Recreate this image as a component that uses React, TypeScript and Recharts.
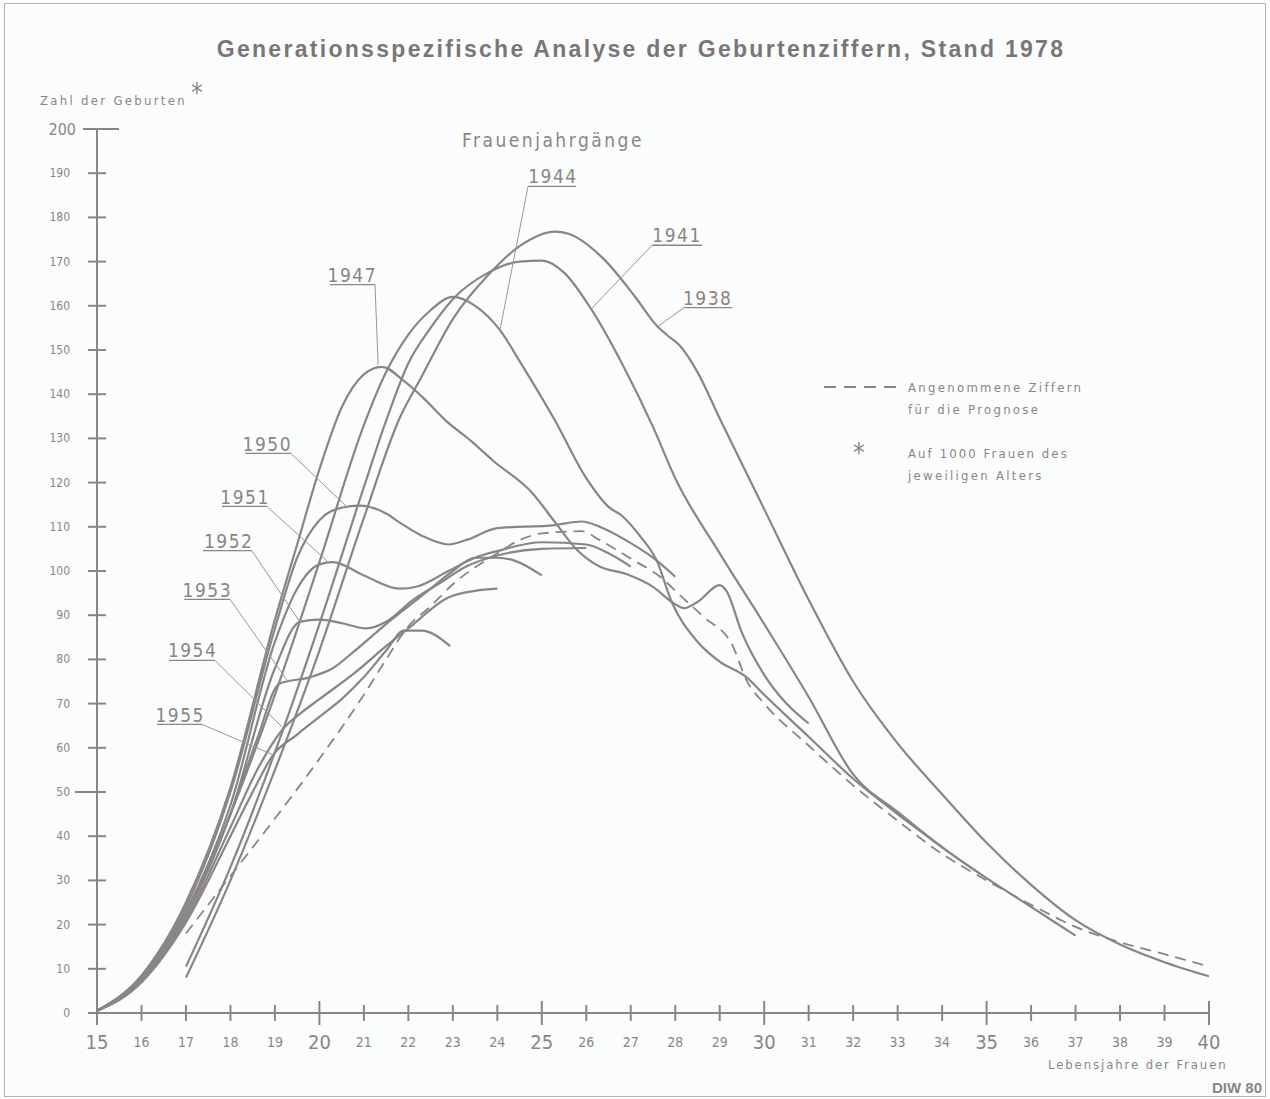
import React from 'react';
import { LineChart, Line, XAxis, YAxis, ReferenceLine, ReferenceDot } from 'recharts';

const INK = '#8a8585';
const FONT = "'DejaVu Sans Condensed', 'DejaVu Sans', sans-serif";

// Lebensjahre (age) and births per 1000 women
const AGE_1938 = [17, 18, 19, 20, 21, 21.8, 22.3, 23, 23.8, 24.5, 25.3, 25.6, 26.4, 27.1, 27.6, 27.8, 28.1, 28.5, 29, 30, 31, 32, 33, 34, 35, 36, 37, 38, 39, 40];
const VAL_1938 = [8, 30, 55, 82, 112, 134.5, 144, 157, 167, 173.5, 176.8, 176.3, 170.5, 162, 155.3, 153.5, 151, 145, 134.5, 114, 93.5, 75, 61, 49.5, 38.5, 29, 21, 15.5, 11.5, 8.3];

const AGE_1941 = [17, 18, 19, 20, 21, 21.5, 22, 22.5, 23, 23.8, 24.5, 25, 25.5, 26.1, 26.8, 27.5, 28, 29, 30, 31, 32, 33, 34, 35, 36, 37];
const VAL_1941 = [10.5, 33, 59, 88, 119, 134, 147, 155, 161.5, 167.5, 170, 170.2, 167.5, 159.4, 147, 132.6, 121, 104, 88, 71.5, 54, 45.5, 37.5, 30.5, 24, 17.5];

const AGE_1944 = [15, 16, 17, 18, 19, 20, 21, 21.5, 22, 22.5, 23, 23.5, 24.06, 24.5, 25.3, 26, 26.5, 26.8, 27.2, 27.6, 27.9, 28.5, 29, 29.6, 30, 31, 32, 33, 34];
const VAL_1944 = [0.5, 7, 22, 45, 72, 102, 133, 145, 153.5, 159, 162, 160, 154.5, 147.5, 134, 121, 114.5, 112.5, 108, 102, 93.5, 84, 79.5, 76, 72, 62.5, 53, 45, 37.5];

const AGE_1947 = [15, 16, 17, 18, 19, 19.5, 20, 20.5, 21, 21.4, 21.9, 22.3, 22.9, 23.4, 23.9, 24.8, 25.3, 25.8, 26.3, 26.9, 27.5, 27.95, 28.2, 28.5, 29, 29.15, 29.5, 30, 30.5, 31];
const VAL_1947 = [0.5, 8.5, 25, 51, 89, 106, 123, 137, 144.5, 146.2, 143, 139.5, 133.5, 129.5, 125, 117.5, 111, 104.7, 101, 99.3, 96.4, 92.8, 91.6, 93, 96.8, 95.5, 86, 76.5, 70, 65.5];

const AGE_1950 = [15, 16, 17, 18, 19, 19.5, 20, 20.5, 20.9, 21.5, 21.8, 22.3, 22.9, 23.3, 24, 25.3, 25.9, 26.3, 27, 27.5, 28];
const VAL_1950 = [0.5, 8, 24, 50, 87, 103, 111.5, 114.3, 114.8, 113, 111, 108, 106, 107, 109.7, 110.4, 111.2, 110, 106.3, 103, 98.7];

const AGE_1951 = [15, 16, 17, 18, 19, 19.5, 20, 20.3, 21, 21.8, 22.2, 22.9, 23.5, 24, 25, 26, 26.5, 27];
const VAL_1951 = [0.5, 8, 23, 47, 84, 96, 101.5, 102, 99, 96, 96.5, 100, 103, 104.5, 106.5, 106, 104, 101];

const AGE_1952 = [15, 16, 17, 18, 19, 19.56, 20, 20.5, 21.06, 21.5, 22.1, 22.7, 23.3, 24, 25, 26];
const VAL_1952 = [0.5, 7.5, 22, 45, 78, 88.5, 89, 88.2, 87, 88.5, 93.4, 97.2, 101, 103.5, 105, 105.2];

const AGE_1953 = [15, 16, 17, 18, 18.6, 19.1, 19.8, 20.3, 20.8, 21.5, 22, 22.5, 23, 23.5, 24, 24.4, 25];
const VAL_1953 = [0.5, 7.5, 22, 45, 62, 74.5, 76, 78, 82, 88, 92, 96, 100, 103, 103, 102.3, 99];

const AGE_1954 = [15, 16, 17, 18, 18.6, 19.2, 19.6, 20, 20.8, 21.5, 22, 22.9, 23.5, 24];
const VAL_1954 = [0.5, 7, 21, 42, 55, 64.5, 68, 71, 77, 83, 87, 94, 95.5, 96];

const AGE_1955 = [15, 16, 17, 18, 18.5, 18.96, 19.5, 20, 20.5, 21, 21.5, 21.9, 22.3, 22.94];
const VAL_1955 = [0.5, 7, 20.5, 40, 50, 58.4, 63, 67, 71, 76, 82, 86.5, 86.5, 83];

// Angenommene Ziffern für die Prognose (dashed)
const AGE_PROG = [17, 17.5, 18, 19, 20, 21, 21.5, 22, 22.5, 23, 24, 24.5, 25, 25.9, 26.3, 27, 27.66, 28.14, 28.63, 29.3, 29.6, 30, 31, 32, 33, 34, 35, 36, 37, 38, 39, 40];
const VAL_PROG = [18, 24.5, 31, 44, 57.5, 72, 80, 87.5, 92, 97, 104, 107, 108.5, 109, 107, 102.8, 98.7, 94.2, 89.7, 82.9, 75.3, 70, 60.5, 51.5, 43.5, 36, 30, 24.5, 19.5, 16, 13.3, 10.5];

const X_TICKS = Array.from({ length: 26 }, (_, i) => 15 + i);
const Y_TICKS = Array.from({ length: 21 }, (_, i) => i * 10);
const MAJOR_X = [15, 20, 25, 30, 35, 40];

const zip = (ages: number[], vals: number[]) => ages.map((age, i) => ({ age, v: vals[i] }));

const COHORTS = [
  { name: '1938', data: zip(AGE_1938, VAL_1938) },
  { name: '1941', data: zip(AGE_1941, VAL_1941) },
  { name: '1944', data: zip(AGE_1944, VAL_1944) },
  { name: '1947', data: zip(AGE_1947, VAL_1947) },
  { name: '1950', data: zip(AGE_1950, VAL_1950) },
  { name: '1951', data: zip(AGE_1951, VAL_1951) },
  { name: '1952', data: zip(AGE_1952, VAL_1952) },
  { name: '1953', data: zip(AGE_1953, VAL_1953) },
  { name: '1954', data: zip(AGE_1954, VAL_1954) },
  { name: '1955', data: zip(AGE_1955, VAL_1955) },
];
const PROGNOSE = zip(AGE_PROG, VAL_PROG);

// label text anchor, underline span, leader end on the curve (in age / value units)
const ANNOTATIONS = [
  { name: '1944', tx: 25.25, ty: 187.8, u1: 24.69, u2: 25.77, uy: 187.0, from: 24.69, ex: 24.06, ey: 154.5 },
  { name: '1941', tx: 28.04, ty: 174.4, u1: 27.48, u2: 28.6, uy: 173.7, from: 27.48, ex: 26.1, ey: 159.2 },
  { name: '1938', tx: 28.73, ty: 160.2, u1: 28.2, u2: 29.28, uy: 159.6, from: 28.2, ex: 27.59, ey: 155.2 },
  { name: '1947', tx: 20.74, ty: 165.4, u1: 20.24, u2: 21.25, uy: 164.8, from: 21.25, ex: 21.32, ey: 146.6 },
  { name: '1950', tx: 18.83, ty: 127.1, u1: 18.33, u2: 19.36, uy: 126.6, from: 19.36, ex: 20.62, ey: 114.5 },
  { name: '1951', tx: 18.33, ty: 115.2, u1: 17.81, u2: 18.82, uy: 114.6, from: 18.82, ex: 20.17, ey: 102.3 },
  { name: '1952', tx: 17.96, ty: 105.2, u1: 17.38, u2: 18.48, uy: 104.6, from: 18.48, ex: 19.56, ey: 88.5 },
  { name: '1953', tx: 17.48, ty: 94.1, u1: 16.96, u2: 17.99, uy: 93.6, from: 17.99, ex: 19.27, ey: 75.3 },
  { name: '1954', tx: 17.15, ty: 80.5, u1: 16.62, u2: 17.65, uy: 79.8, from: 17.65, ex: 19.18, ey: 64.5 },
  { name: '1955', tx: 16.87, ty: 65.8, u1: 16.35, u2: 17.36, uy: 65.3, from: 17.36, ex: 18.96, ey: 58.4 },
];

const XTick = (props: any) => {
  const { x, y, payload } = props;
  const major = MAJOR_X.includes(payload.value);
  const h = major ? 12 : 8;
  return (
    <g>
      <line x1={x} x2={x} y1={y - h} y2={y + h} stroke={INK} strokeWidth={2} />
      <text x={x} y={y + (major ? 36 : 34)} textAnchor="middle" fontFamily={FONT}
        fontSize={major ? 20 : 14} fill={INK}>{payload.value}</text>
    </g>
  );
};

const YTick = (props: any) => {
  const { x, y, payload } = props;
  const big = payload.value === 200;
  const left = big ? 14 : payload.value === 50 ? 22 : 9;
  const right = big ? 22 : 9;
  return (
    <g>
      <line x1={x - left} x2={x + right} y1={y} y2={y} stroke={INK} strokeWidth={2} />
      <text x={x - (big ? 21 : 27)} y={y + (big ? 6 : 4)} textAnchor="end" fontFamily={FONT}
        fontSize={big ? 16 : 12} fill={INK}>{payload.value}</text>
    </g>
  );
};

const small: React.CSSProperties = {
  position: 'absolute', fontFamily: FONT, color: INK, whiteSpace: 'nowrap', lineHeight: 1,
};

export default function App() {
  return (
    <div style={{ position: 'absolute', left: 0, top: 0, width: 1270, height: 1099, background: '#fbfdfd', overflow: 'hidden' }}>
      <div style={{ position: 'absolute', left: 4, top: 3, width: 1260, height: 1092, border: '1.5px solid #b5b3b3' }} />

      <div style={{ ...small, left: 0, width: 1282, top: 38, textAlign: 'center', fontFamily: "'Liberation Sans', Arial, sans-serif",
        fontWeight: 700, fontSize: 23, letterSpacing: 2.3, color: '#7b7676' }}>
        Generationsspezifische Analyse der Geburtenziffern, Stand 1978
      </div>

      <div style={{ ...small, left: 40, top: 94, fontSize: 13, letterSpacing: 2.3 }}>Zahl der Geburten</div>
      <div style={{ ...small, left: 191, top: 80, fontSize: 26 }}>*</div>

      <div style={{ ...small, left: 462, top: 131, fontSize: 19, letterSpacing: 2.5 }}>Frauenjahrgänge</div>

      <svg style={{ position: 'absolute', left: 824, top: 382 }} width={80} height={10}>
        <line x1={0} x2={78} y1={5} y2={5} stroke={INK} strokeWidth={1.8} strokeDasharray="12 8" />
      </svg>
      <div style={{ ...small, left: 908, top: 381, fontSize: 13, letterSpacing: 2.3 }}>Angenommene Ziffern</div>
      <div style={{ ...small, left: 908, top: 403, fontSize: 13, letterSpacing: 2.3 }}>für die Prognose</div>
      <div style={{ ...small, left: 853, top: 440, fontSize: 26 }}>*</div>
      <div style={{ ...small, left: 908, top: 447, fontSize: 13, letterSpacing: 2.1 }}>Auf 1000 Frauen des</div>
      <div style={{ ...small, left: 908, top: 469, fontSize: 13, letterSpacing: 2.3 }}>jeweiligen Alters</div>

      <div style={{ ...small, left: 1048, top: 1058, fontSize: 13, letterSpacing: 1.9 }}>Lebensjahre der Frauen</div>
      <div style={{ ...small, left: 1212, top: 1080, fontSize: 15, fontWeight: 700, fontFamily: "'Liberation Sans', Arial, sans-serif" }}>DIW 80</div>

      <div style={{ position: 'absolute', left: 0, top: 0 }}>
        <LineChart width={1270} height={1099} margin={{ top: 129, right: 61, bottom: 46, left: 0 }}>
          <XAxis dataKey="age" type="number" domain={[15, 40]} ticks={X_TICKS} interval={0}
            allowDataOverflow height={40} tickSize={0} tickMargin={0} tickLine={false}
            axisLine={{ stroke: INK, strokeWidth: 2 }} tick={<XTick />} />
          <YAxis type="number" domain={[0, 200]} ticks={Y_TICKS} interval={0} width={97}
            tickSize={0} tickMargin={0} tickLine={false}
            axisLine={{ stroke: INK, strokeWidth: 2 }} tick={<YTick />} />

          {COHORTS.map((c) => (
            <Line key={c.name} data={c.data} dataKey="v" type="monotone" stroke={INK} strokeWidth={2.2}
              dot={false} activeDot={false} isAnimationActive={false} />
          ))}
          <Line data={PROGNOSE} dataKey="v" type="monotone" stroke={INK} strokeWidth={1.8}
            strokeDasharray="11 7" dot={false} activeDot={false} isAnimationActive={false} />

          {ANNOTATIONS.map((a) => (
            <ReferenceLine key={`u${a.name}`} segment={[{ x: a.u1, y: a.uy }, { x: a.u2, y: a.uy }]}
              stroke={INK} strokeWidth={1.3} ifOverflow="visible" />
          ))}
          {ANNOTATIONS.map((a) => (
            <ReferenceLine key={`l${a.name}`} segment={[{ x: a.from, y: a.uy }, { x: a.ex, y: a.ey }]}
              stroke="#9a9696" strokeWidth={1} ifOverflow="visible" />
          ))}
          {ANNOTATIONS.map((a) => (
            <ReferenceDot key={`t${a.name}`} x={a.tx} y={a.ty} r={1} ifOverflow="visible"
              shape={(p: any) => (
                <text x={p.cx} y={p.cy} textAnchor="middle" fontFamily={FONT} fontSize={19}
                  letterSpacing={1.5} fill={INK}>{a.name}</text>
              )} />
          ))}
        </LineChart>
      </div>
    </div>
  );
}
